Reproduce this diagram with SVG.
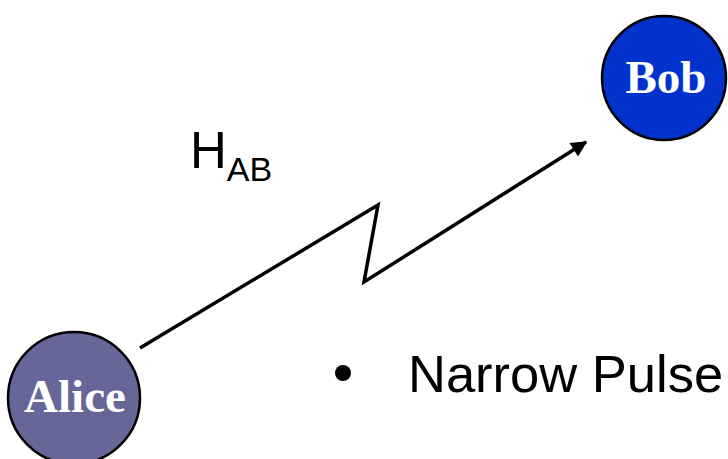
<svg xmlns="http://www.w3.org/2000/svg" width="728" height="459" viewBox="0 0 728 459">
<style>
.node{stroke:#000;stroke-width:2.5}
.lbl{font-family:"Liberation Serif","Times New Roman",serif;font-weight:bold;fill:#fff;text-anchor:middle}
.txt{font-family:"Liberation Sans",Arial,sans-serif;fill:#000}
.conn{fill:none;stroke:#000;stroke-width:3.5;stroke-linejoin:miter}
</style>
<defs>
<marker id="arr" viewBox="0 0 10 10" refX="9" refY="5" markerWidth="5" markerHeight="4.6" orient="auto" markerUnits="strokeWidth">
<path d="M0,0 L10,5 L0,10 z" fill="#000"/>
</marker>
</defs>
<rect width="728" height="459" fill="#fff"/>
<g id="connectors">
<polyline class="conn" points="140,348 378,205 364,282 586,142" marker-end="url(#arr)"/>
</g>
<g id="bob">
<circle class="node" cx="664" cy="78" r="62" fill="#0033CC"/>
<text class="lbl" x="666" y="93" font-size="47">Bob</text>
</g>
<g id="alice">
<circle class="node" cx="74" cy="398" r="66" fill="#666699"/>
<text class="lbl" x="75" y="412" font-size="47">Alice</text>
</g>
<g id="label">
<text class="txt" x="190" y="168" font-size="51">H<tspan font-size="34" dy="13">AB</tspan></text>
</g>
<g id="bullet">
<circle cx="343" cy="373" r="8" fill="#000"/>
<text class="txt" x="408" y="392" font-size="52.5">Narrow Pulse</text>
</g>
</svg>
